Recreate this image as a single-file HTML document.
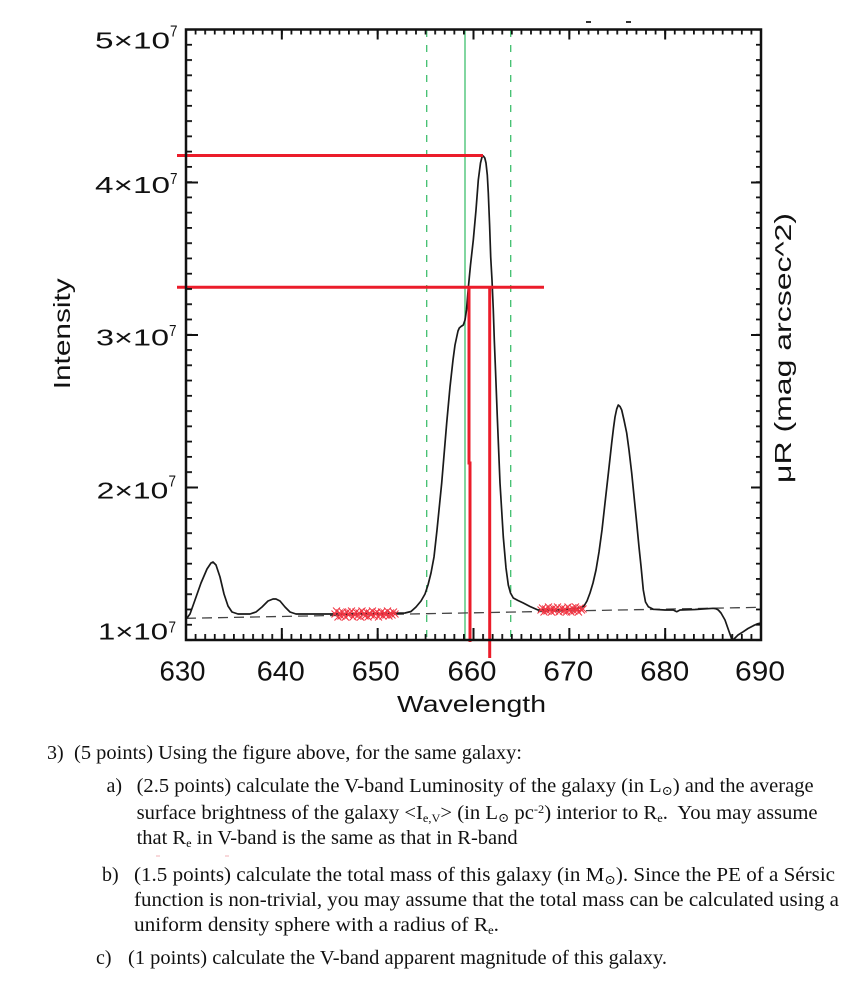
<!DOCTYPE html>
<html>
<head>
<meta charset="utf-8">
<style>
  html,body{margin:0;padding:0;background:#fff;}
  svg{display:block;}
  .ax{font-family:"Liberation Sans","DejaVu Sans",sans-serif;fill:#111;}
  .tx{font-family:"Liberation Serif","DejaVu Serif",serif;fill:#111;font-size:20px;white-space:pre;}
</style>
</head>
<body>
<svg width="848" height="984" viewBox="0 0 848 984" xmlns="http://www.w3.org/2000/svg">
  <defs>
    <pattern id="pb" x="185.1" y="0" width="9.5833" height="984" patternUnits="userSpaceOnUse">
      <rect x="0" y="0" width="1.8" height="984" fill="#111"/>
    </pattern>
    <pattern id="pl" x="0" y="28.6" width="848" height="15.2625" patternUnits="userSpaceOnUse">
      <rect x="0" y="0" width="848" height="1.8" fill="#111"/>
    </pattern>
    <marker id="xm" markerWidth="9" markerHeight="9" refX="4.5" refY="4.5" markerUnits="userSpaceOnUse" orient="0">
      <path d="M1,1 L8,8 M8,1 L1,8" stroke="#f03644" stroke-width="1"/>
    </marker>
    <clipPath id="plot"><rect x="186" y="29.5" width="575" height="610.5"/></clipPath>
  </defs>

  <rect width="848" height="984" fill="#fff"/>

  <!-- green reference lines -->
  <line x1="426.7" y1="30" x2="426.7" y2="640" stroke="#3fbf6e" stroke-width="1.3" stroke-dasharray="7 8"/>
  <line x1="510.7" y1="30" x2="510.7" y2="640" stroke="#3fbf6e" stroke-width="1.3" stroke-dasharray="7 8"/>
  <line x1="465" y1="30" x2="465" y2="640" stroke="#3fbf6e" stroke-width="1.3"/>

  <!-- dashed continuum -->
  <line x1="186" y1="618.3" x2="761" y2="607.3" stroke="#444" stroke-width="1.3" stroke-dasharray="10 6"/>

  <!-- spectrum -->
  <polyline clip-path="url(#plot)" fill="none" stroke="#1a1a1a" stroke-width="1.7" stroke-linejoin="round" points="
187,618 190,614 195,600 201,583 207,569 211,563 213,562 216,565 220,577 224,594 228,606 232,612 238,614 250,614 256,612 262,607 268,601 273,599 276,599 280,601 285,607 290,612 296,614 320,614 350,614 380,613.5 405,613 411,611.5 416,607 421,601 425,594 428,585 431,573 434,557 437,530 441.7,483 446.7,423 450,387 453,360 455,345 456.7,337 458,331 459.3,328 461,326.5 463.3,325 465,320 466.5,310 468.3,288 470.5,265 473.3,240 476,210 478.3,180 480.5,163 482,157 483.3,156 484.8,158 486,163 487.3,175 488.3,193 489.6,225 490.7,257 492,280 493.3,310 494.3,340 495.5,370 497.3,417 500,483 503.3,537 506,568 508.3,585 510.5,593 513.3,598 518,600.5 523.3,603 530,606.5 538,610 560,610 580,608 584,606 587,601 590,593 593,583 596,570 599,552 602,530 605,503 608.5,472 611.7,443 613.5,428 615,417 616.7,409 618.3,405 620,406.5 621.7,410 624,420 626.7,433 629,450 631.7,473 634,496 636.7,523 639,547 641,566 643.3,590 645.5,602 648.3,606.7 653.3,609.3 665,610 673.3,610 676.7,611.7 680,610 695,609.5 713.3,608.3 716,608.8 718.3,610 721,613 725,620 728.5,630 731.7,639 733,640 738,635 743.3,631.7 748,628.5 753.3,625.7 757,624 761,623"/>

  <!-- red x markers -->
  <polyline fill="none" stroke="none" marker-start="url(#xm)" marker-mid="url(#xm)" marker-end="url(#xm)" points="
335,614 336.5,611 338,617 339.5,613 341,616 342.5,612 344,615 345.5,617 347,612 348.5,615 350,613 351.5,611 353,617 354.5,614 356,612 357.5,616 359,613 360.5,617 362,611 363.5,614 365,616 366.5,612 368,617 369.5,613 371,615 372.5,611 374,616 375.5,613 377,612 378.5,617 380,614 381.5,612 383,616 384.5,613 386,615 387.5,611 389,616 390.5,613 392,615 393.5,612 395,614"/>
  <polyline fill="none" stroke="none" marker-start="url(#xm)" marker-mid="url(#xm)" marker-end="url(#xm)" points="
541,610 542.5,608 544,612 545.5,609 547,611 548.5,607 550,610 551.5,612 553,608 554.5,611 556,609 557.5,607 559,612 560.5,610 562,608 563.5,611 565,609 566.5,612 568,607 569.5,610 571,612 572.5,608 574,611 575.5,607 577,610 578.5,612 580,608 581.5,610 583,609"/>

  <!-- red guide lines -->
  <g stroke="#eb1c2a" stroke-width="3" fill="none">
    <line x1="177" y1="155.5" x2="483" y2="155.5"/>
    <line x1="177" y1="287.3" x2="544" y2="287.3"/>
    <polyline points="469,287.3 469,463 470,463 470,642"/>
    <line x1="489.7" y1="287.3" x2="489.7" y2="658"/>
  </g>

  <!-- minor ticks -->
  <rect x="185" y="634" width="578" height="6" fill="url(#pb)"/>
  <rect x="185" y="29.5" width="578" height="5" fill="url(#pb)"/>
  <rect x="186" y="28" width="6" height="614" fill="url(#pl)"/>
  <rect x="756" y="28" width="5" height="614" fill="url(#pl)"/>

  <!-- major ticks -->
  <g stroke="#111" stroke-width="2">
    <path d="M281.83,640v-12 M377.67,640v-12 M473.5,640v-12 M569.33,640v-12 M665.17,640v-12"/>
    <path d="M281.83,29.5v10 M377.67,29.5v10 M473.5,29.5v10 M569.33,29.5v10 M665.17,29.5v10"/>
    <path d="M186,182.5h12 M186,335h12 M186,487.5h12"/>
    <path d="M761,182.5h-10 M761,335h-10 M761,487.5h-10"/>
  </g>

  <!-- frame -->
  <rect x="186" y="29.5" width="575" height="610.5" fill="none" stroke="#111" stroke-width="2.5"/>

  <!-- top tiny marks -->
  <line x1="586" y1="22" x2="591" y2="22" stroke="#333" stroke-width="2"/>
  <line x1="626" y1="22" x2="631" y2="22" stroke="#333" stroke-width="2"/>

  <!-- y tick labels -->
  <g class="ax" font-size="23">
    <text x="95" y="48.3" textLength="75" lengthAdjust="spacingAndGlyphs">5×10</text>
    <text x="170" y="36.7" font-size="16" textLength="7.5" lengthAdjust="spacingAndGlyphs">7</text>
    <text x="95" y="193" textLength="75" lengthAdjust="spacingAndGlyphs">4×10</text>
    <text x="170" y="184" font-size="16" textLength="7.5" lengthAdjust="spacingAndGlyphs">7</text>
    <text x="96" y="345.5" textLength="73" lengthAdjust="spacingAndGlyphs">3×10</text>
    <text x="169" y="336" font-size="16" textLength="7.5" lengthAdjust="spacingAndGlyphs">7</text>
    <text x="96.7" y="498.3" textLength="71.6" lengthAdjust="spacingAndGlyphs">2×10</text>
    <text x="168.5" y="486.7" font-size="16" textLength="7.5" lengthAdjust="spacingAndGlyphs">7</text>
    <text x="98" y="639.3" textLength="70" lengthAdjust="spacingAndGlyphs">1×10</text>
    <text x="168.5" y="632.5" font-size="16" textLength="7.5" lengthAdjust="spacingAndGlyphs">7</text>
  </g>

  <!-- x tick labels -->
  <g class="ax" font-size="28" text-anchor="middle">
    <text x="182.5" y="680.5" textLength="46" lengthAdjust="spacingAndGlyphs">630</text>
    <text x="280.8" y="680.5" textLength="48" lengthAdjust="spacingAndGlyphs">640</text>
    <text x="375.8" y="680.5" textLength="48" lengthAdjust="spacingAndGlyphs">650</text>
    <text x="472" y="680.5" textLength="49" lengthAdjust="spacingAndGlyphs">660</text>
    <text x="568.3" y="680.5" textLength="50" lengthAdjust="spacingAndGlyphs">670</text>
    <text x="664.7" y="680.5" textLength="49" lengthAdjust="spacingAndGlyphs">680</text>
    <text x="760" y="680.5" textLength="50" lengthAdjust="spacingAndGlyphs">690</text>
  </g>

  <!-- axis titles -->
  <text class="ax" font-size="23" x="397" y="712" textLength="149" lengthAdjust="spacingAndGlyphs">Wavelength</text>
  <text class="ax" font-size="23" transform="translate(70,389.3) rotate(-90)" textLength="111" lengthAdjust="spacingAndGlyphs">Intensity</text>
  <text class="ax" font-size="23" transform="translate(791,483) rotate(-90)" textLength="270" lengthAdjust="spacingAndGlyphs">μR (mag arcsec^2)</text>

  <!-- question text -->
  <text class="tx" x="47" y="759">3)</text>
  <text class="tx" x="74" y="759" textLength="448" lengthAdjust="spacingAndGlyphs">(5 points) Using the figure above, for the same galaxy:</text>

  <text class="tx" x="106.5" y="792">a)</text>
  <text class="tx" x="136.6" y="792" textLength="677" lengthAdjust="spacingAndGlyphs">(2.5 points) calculate the V-band Luminosity of the galaxy (in L<tspan dy="3" font-size="13">⊙</tspan><tspan dy="-3">) and the average</tspan></text>
  <text class="tx" x="136.6" y="819" textLength="681" lengthAdjust="spacingAndGlyphs">surface brightness of the galaxy &lt;I<tspan dy="3" font-size="12">e,V</tspan><tspan dy="-3">&gt; (in L</tspan><tspan dy="3" font-size="13">⊙</tspan><tspan dy="-3"> pc</tspan><tspan dy="-6" font-size="12">-2</tspan><tspan dy="6">) interior to R</tspan><tspan dy="3" font-size="12">e</tspan><tspan dy="-3">.  You may assume</tspan></text>
  <text class="tx" x="136.6" y="844" textLength="381" lengthAdjust="spacingAndGlyphs">that R<tspan dy="3" font-size="12">e</tspan><tspan dy="-3"> in V-band is the same as that in R-band</tspan></text>

  <line x1="156" y1="856" x2="160" y2="856" stroke="#f2b0b4" stroke-width="1"/>
  <line x1="225" y1="856" x2="229" y2="856" stroke="#f2b0b4" stroke-width="1"/>

  <text class="tx" x="102" y="881">b)</text>
  <text class="tx" x="134" y="881" textLength="701" lengthAdjust="spacingAndGlyphs">(1.5 points) calculate the total mass of this galaxy (in M<tspan dy="3" font-size="13">⊙</tspan><tspan dy="-3">). Since the PE of a Sérsic</tspan></text>
  <text class="tx" x="134" y="906" textLength="705" lengthAdjust="spacingAndGlyphs">function is non-trivial, you may assume that the total mass can be calculated using a</text>
  <text class="tx" x="134" y="931" textLength="365" lengthAdjust="spacingAndGlyphs">uniform density sphere with a radius of R<tspan dy="3" font-size="12">e</tspan><tspan dy="-3">.</tspan></text>

  <text class="tx" x="96" y="964">c)</text>
  <text class="tx" x="128" y="964" textLength="539" lengthAdjust="spacingAndGlyphs">(1 points) calculate the V-band apparent magnitude of this galaxy.</text>
</svg>
</body>
</html>
